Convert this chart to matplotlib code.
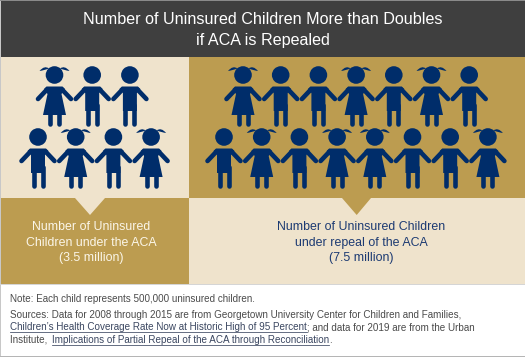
import matplotlib
matplotlib.use("Agg")
import matplotlib.pyplot as plt
from matplotlib.patches import Polygon, Rectangle, Circle, PathPatch
from matplotlib.path import Path

# ---- data ----
title_lines = ["Number of Uninsured Children More than Doubles", "if ACA is Repealed"]
scenarios = ["under the ACA", "under repeal of the ACA"]
uninsured_millions = [3.5, 7.5]
children_aca_rows = ["GBB", "BGBG"]
children_repeal_rows = ["GBBGBGB", "BGBGGBBG"]
label_aca = ["Number of Uninsured", "Children under the ACA", "(3.5 million)"]
label_repeal = ["Number of Uninsured Children", "under repeal of the ACA", "(7.5 million)"]
note_text = "Note: Each child represents 500,000 uninsured children."
source_lines = [
    [("Sources: Data for 2008 through 2015 are from Georgetown University Center for Children and Families,", False)],
    [("Children\u2019s Health Coverage Rate Now at Historic High of 95 Percent", True),
     ("; and data for 2019 are from the Urban", False)],
    [("Institute, ", False), ("Implications of Partial Repeal of the ACA through Reconciliation", True), (".", False)],
]

# ---- style ----
DARK, CREAM, TAN, NAVY = "#3f3f3f", "#efe3cc", "#bc9c50", "#002d6a"
GREY_TEXT = "#4a4a4a"
LINK = "#3a4660"
plt.rcParams["font.family"] = ["Liberation Sans", "DejaVu Sans"]

fig = plt.figure(figsize=(5.25, 3.57), dpi=100, facecolor="white")
ax = fig.add_axes([0, 0, 1, 1])
ax.set_xlim(0, 525)
ax.set_ylim(357, 0)
ax.axis("off")

def rect(x0, y0, x1, y1, color, z=1):
    ax.add_patch(Rectangle((x0, y0), x1 - x0, y1 - y0, fc=color, ec="none", lw=0, zorder=z))

SPLIT, HEAD_B, MID, PANEL_B = 189, 57, 198, 284
rect(0, 0, 525, 1, "#8a8a8a")
rect(1, 1, 525, HEAD_B, DARK)
rect(1, HEAD_B, SPLIT, MID, CREAM)
rect(SPLIT, HEAD_B, 525, MID, TAN)
rect(1, MID, SPLIT, PANEL_B, TAN)
rect(SPLIT, MID, 525, PANEL_B, CREAM)
rect(0, PANEL_B, 525, 285, "#d5d5d5")
rect(0, 356, 525, 357, "#b5b5b5")
rect(0, 0, 1, 357, "#c8c8c8", z=0.5)

# pointers
ax.add_patch(Polygon([(75, MID), (105, MID), (90, 215)], fc=CREAM, ec="none", zorder=2))
ax.add_patch(Polygon([(342, MID), (371, MID), (356.7, 215)], fc=TAN, ec="none", zorder=2))

PX = 0.72  # points per pixel

def limb(p, q, width_px, cap="round"):
    ax.plot([p[0], q[0]], [p[1], q[1]], color=NAVY, lw=width_px * PX,
            solid_capstyle=cap, zorder=3)

def child(cx, cy, kind):
    ax.add_patch(Circle((cx, cy), 8.8, fc=NAVY, ec="none", zorder=3))
    # arms
    for s in (-1, 1):
        limb((cx + s * 7.5, cy + 14.5), (cx + s * 16.5, cy + 24), 4.6)
    # legs
    for s in (-1, 1):
        limb((cx + s * 4.5, cy + 30), (cx + s * 4.5, cy + 48.8), 4.6)
    if kind == "B":
        ax.add_patch(Polygon([(cx - 8, cy + 11.5), (cx + 8, cy + 11.5), (cx + 10.5, cy + 14),
                              (cx + 7, cy + 18), (cx + 7, cy + 36), (cx - 7, cy + 36),
                              (cx - 7, cy + 18), (cx - 10.5, cy + 14)],
                             fc=NAVY, ec="none", zorder=3))
    else:
        ax.add_patch(Polygon([(cx - 8, cy + 11.5), (cx + 8, cy + 11.5), (cx + 10.5, cy + 14),
                              (cx + 7, cy + 19), (cx + 11.5, cy + 40), (cx - 11.5, cy + 40),
                              (cx - 7, cy + 19), (cx - 10.5, cy + 14)],
                             fc=NAVY, ec="none", zorder=3))
        for s in (-1, 1):
            verts = [(cx + s * 5.5, cy - 6.5),
                     (cx + s * 10, cy - 10), (cx + s * 15, cy - 4),
                     (cx + s * 11, cy - 4.5), (cx + s * 5.5, cy - 6.5)]
            codes = [Path.MOVETO, Path.CURVE3, Path.CURVE3, Path.CURVE3, Path.CURVE3]
            ax.add_patch(PathPatch(Path(verts, codes), fc=NAVY, ec="none", zorder=3))

PITCH = 37.7
ROW_Y = (75, 137)
layout = [(children_aca_rows, (54.5, 38)), (children_repeal_rows, (243, 224))]
for rows, starts in layout:
    for r, (row, x0) in enumerate(zip(rows, starts)):
        for i, kind in enumerate(row):
            child(x0 + i * PITCH, ROW_Y[r], kind)

# title
for y, line in zip((19.5, 40), title_lines):
    ax.text(263, y, line, color="white", fontsize=11.6, ha="center", va="center", zorder=5)

# panel labels
for lines, xc, col in ((label_aca, 91, "#fbf6e8"), (label_repeal, 361, "#1c3a72")):
    for y, line in zip((227, 243, 258.5), lines):
        ax.text(xc, y, line, color=col, fontsize=8.9, ha="center", va="center", zorder=5)

# notes
ax.text(10, 298.5, note_text, color=GREY_TEXT, fontsize=7.1, ha="left", va="center", zorder=5)
fig.canvas.draw()
renderer = fig.canvas.get_renderer()
for y, parts in zip((314.5, 327, 340), source_lines):
    x = 10
    for text, link in parts:
        t = ax.text(x, y, text, color=LINK if link else GREY_TEXT, fontsize=7.1,
                    ha="left", va="center", zorder=5)
        bb = t.get_window_extent(renderer)
        width = bb.width * 525 / fig.bbox.width
        if link:
            ax.plot([x, x + width], [y + 5, y + 5], color=LINK, lw=0.55, zorder=5)
        x += width + (2.2 if text.endswith(" ") else 0)

fig.savefig("out.png", dpi=100)
